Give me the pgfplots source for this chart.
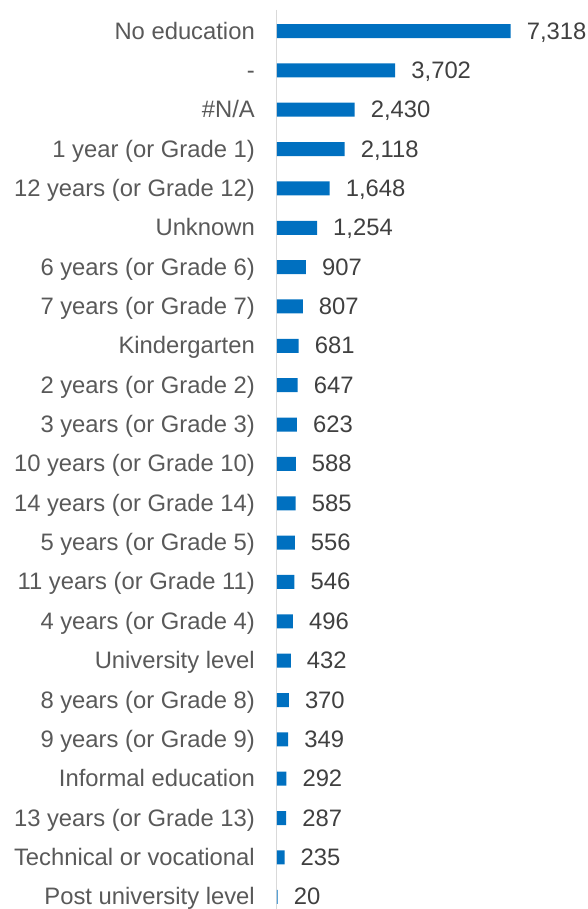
\documentclass[border=0pt]{standalone}
\usepackage{pgfplots}
\pgfplotsset{compat=1.18}
\usepackage{fontspec}
\setmainfont{Liberation Sans}
\definecolor{barblue}{HTML}{0070C0}
\definecolor{lblgray}{HTML}{595959}
\definecolor{valgray}{HTML}{404040}
\definecolor{axgray}{HTML}{D9D9D9}
\begin{document}
\begin{tikzpicture}
\useasboundingbox (-277pt,0pt) rectangle (311pt,909pt);
\begin{axis}[
  at={(0pt,0pt)}, anchor=south west,
  scale only axis, width=311pt, height=899pt,
  xbar, bar width=14pt,
  xmin=0, xmax=9739,
  ymin=-0.534, ymax=22.31, y dir=reverse,
  axis x line=none,
  axis y line*=left,
  y axis line style={draw=axgray, line width=1pt, -},
  major tick length=0pt,
  ytick={0,...,22},
  yticklabels={No education,-,\#N/A,1 year (or Grade 1),12 years (or Grade 12),Unknown,6 years (or Grade 6),7 years (or Grade 7),Kindergarten,2 years (or Grade 2),3 years (or Grade 3),10 years (or Grade 10),14 years (or Grade 14),5 years (or Grade 5),11 years (or Grade 11),4 years (or Grade 4),University level,8 years (or Grade 8),9 years (or Grade 9),Informal education,13 years (or Grade 13),Technical or vocational,Post university level},
  yticklabel style={font=\fontsize{23.8}{26}\selectfont, text=lblgray, inner sep=0pt, text height=17pt, text depth=0pt, anchor=east, xshift=-22pt, yshift=0.5pt},
  /pgf/number format/assume math mode=true,
  nodes near coords,
  nodes near coords style={font=\fontsize{23.8}{26}\selectfont, text=valgray, anchor=west, inner sep=0pt, text height=17pt, text depth=0pt, xshift=16pt, yshift=0.5pt, /pgf/number format/.cd, fixed, precision=0, 1000 sep={,}},
  clip=false,
]
\addplot[fill=barblue, draw=none] coordinates {
(7318,0) (3702,1) (2430,2) (2118,3) (1648,4) (1254,5) (907,6) (807,7) (681,8) (647,9) (623,10) (588,11) (585,12) (556,13) (546,14) (496,15) (432,16) (370,17) (349,18) (292,19) (287,20) (235,21) (20,22)
};
\end{axis}
\end{tikzpicture}
\end{document}
